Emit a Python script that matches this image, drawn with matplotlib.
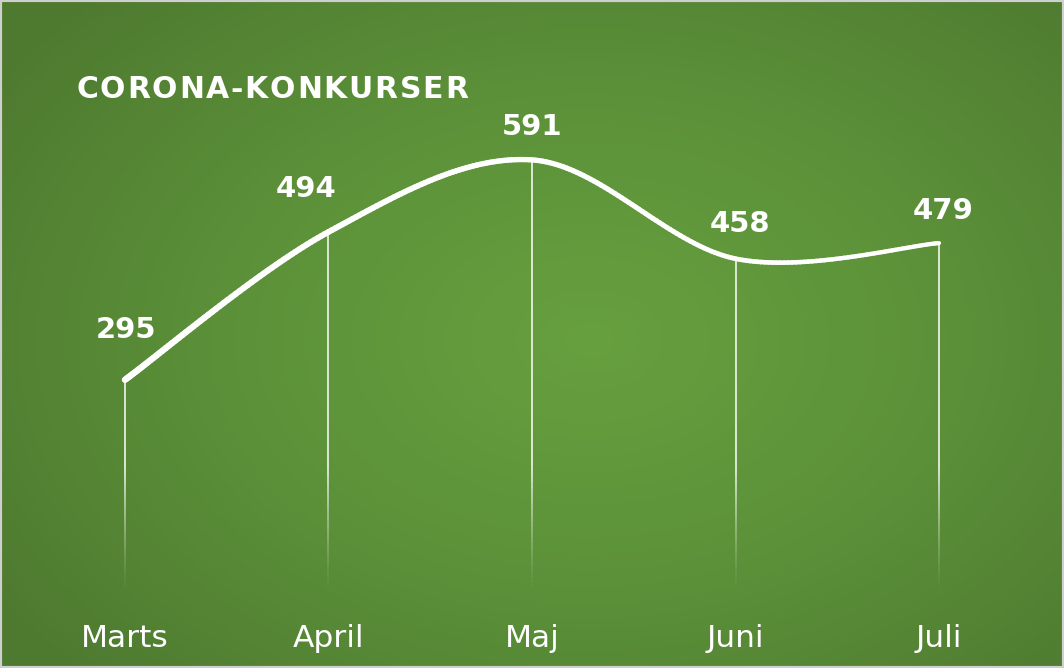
import numpy as np
import matplotlib.pyplot as plt
from matplotlib.collections import LineCollection
from matplotlib.patches import Rectangle
from matplotlib.colors import LinearSegmentedColormap

plt.rcParams['font.family'] = ['DejaVu Sans']

# data
months = ['Marts', 'April', 'Maj', 'Juni', 'Juli']
values = [295, 494, 591, 458, 479]
title = 'CORONA-KONKURSER'

fig = plt.figure(figsize=(10.64, 6.68), dpi=100)
ax = fig.add_axes([0, 0, 1, 1])
ax.set_xlim(-0.614, 4.614)
ax.set_ylim(-92.9, 806.2)
ax.axis('off')

# radial green background
gx, gy = np.meshgrid(np.linspace(0, 1064, 400), np.linspace(0, 668, 260))
r = np.sqrt(((gx - 590) / 620) ** 2 + ((gy - 340) / 430) ** 2)
r = np.clip(r / 1.15, 0, 1)
cmap = LinearSegmentedColormap.from_list('g', ['#67a03f', '#5c9139', '#4e7a30'])
ax.imshow(r, cmap=cmap, extent=[-0.614, 4.614, -92.9, 806.2],
          aspect='auto', origin='upper', zorder=0, interpolation='bilinear')

x = np.arange(len(values), dtype=float)
y = np.array(values, dtype=float)

# fading drop lines
for xi, yi in zip(x, y):
    ys = np.linspace(0, yi, 80)
    segs = [[(xi, ys[k]), (xi, ys[k + 1])] for k in range(len(ys) - 1)]
    a = np.clip((ys[:-1] - 5) / 170, 0, 1) ** 1.3
    cols = [(1, 1, 1, ai) for ai in a]
    ax.add_collection(LineCollection(segs, colors=cols, linewidths=1.1, zorder=2))

# smoothed line (catmull-rom / bezier like Excel)
pts = np.column_stack([x, y])
ext = np.vstack([pts[0], pts, pts[-1]])
curve = []
for i in range(len(pts) - 1):
    p0, p1, p2, p3 = ext[i], ext[i + 1], ext[i + 2], ext[i + 3]
    c1 = p1 + (p2 - p0) / 6
    c2 = p2 - (p3 - p1) / 6
    t = np.linspace(0, 1, 60)[:, None]
    seg = ((1 - t) ** 3) * p1 + 3 * ((1 - t) ** 2) * t * c1 + 3 * (1 - t) * t ** 2 * c2 + t ** 3 * p2
    curve.append(seg if i == 0 else seg[1:])
curve = np.vstack(curve)
segs = np.stack([curve[:-1], curve[1:]], axis=1)
widths = np.linspace(4.6, 3.0, len(segs))
ax.add_collection(LineCollection(segs, colors='white', linewidths=widths,
                                 capstyle='round', joinstyle='round', zorder=3))

# value labels
offsets = [(1, 36), (-16, 31), (0, 24), (3, 25), (3, 23)]
for xi, yi, (dx, dy) in zip(x, y, offsets):
    ax.annotate(f'{int(yi)}', (xi, yi), xytext=(dx, dy), textcoords='offset points',
                ha='center', va='center', color='white', fontsize=21,
                fontweight='bold', zorder=4)

# month labels
for xi, m in zip(x, months):
    ax.text(xi, -53, m, ha='center', va='center', color='white', fontsize=22.5, zorder=4)

# title with letter spacing
fig.canvas.draw()
renderer = fig.canvas.get_renderer()
px = 76
for ch in title:
    t = fig.text(px / 1064, 1 - 90 / 668, ch, color='white', fontsize=21.5,
                 fontweight='bold', va='center', ha='left')
    w = t.get_window_extent(renderer).width
    px += w + 1.8

# border
fig.patches.append(Rectangle((0, 0), 1, 1, transform=fig.transFigure, fill=False,
                             edgecolor='#cfcfcf', linewidth=3, zorder=10))

fig.savefig('out.png', dpi=100)
